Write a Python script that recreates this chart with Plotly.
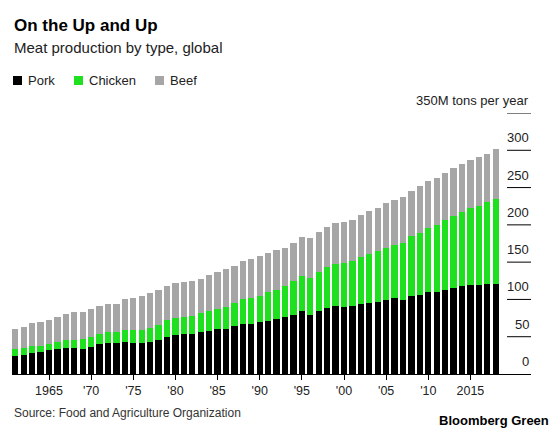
import plotly.graph_objects as go

years = list(range(1961, 2019))

pork = [24.6, 25.9, 28.6, 29.5, 31.7, 33.0, 34.4, 35.3, 33.9, 36.5,
        40.2, 41.3, 41.3, 42.7, 42.0, 41.1, 43.5, 45.8, 50.2, 52.7,
        53.8, 54.0, 56.3, 57.6, 61.0, 60.7, 64.3, 67.4, 67.6, 70.0,
        71.4, 73.7, 75.9, 79.0, 83.9, 79.5, 83.9, 88.4, 90.6, 90.2,
        91.1, 93.8, 95.5, 96.9, 99.1, 101.3, 99.1, 104.0, 106.3, 109.4,
        109.8, 112.9, 115.6, 118.3, 119.6, 119.2, 120.1, 121.0]

chicken = [9.3, 8.7, 8.4, 8.5, 9.2, 9.5, 10.6, 10.9, 13.5, 13.1,
           13.4, 14.7, 14.7, 16.0, 16.9, 17.8, 18.1, 19.6, 22.1, 23.0,
           22.8, 23.9, 25.2, 26.3, 26.3, 28.8, 31.5, 33.0, 34.0, 34.9,
           38.0, 39.2, 42.4, 45.1, 47.8, 48.6, 52.3, 54.5, 56.7, 58.0,
           61.1, 62.9, 65.9, 67.8, 70.5, 71.5, 77.2, 80.4, 83.0, 87.0,
           90.6, 93.8, 96.5, 99.1, 103.2, 106.2, 110.3, 113.8]

beef = [26.8, 28.3, 30.9, 31.2, 31.4, 33.4, 35.8, 36.6, 36.3, 37.7,
        37.5, 38.4, 38.4, 41.3, 43.6, 46.0, 46.9, 47.6, 45.1, 45.7,
        46.6, 46.7, 46.4, 48.7, 49.8, 51.1, 49.7, 50.7, 52.0, 53.3,
        53.5, 53.2, 51.3, 51.8, 51.8, 54.5, 54.4, 54.4, 55.8, 56.3,
        54.5, 57.1, 57.1, 58.5, 59.4, 60.7, 61.6, 61.6, 62.5, 62.5,
        62.1, 62.5, 64.2, 63.9, 63.8, 65.2, 64.7, 67.0]

series_names = ["Pork", "Chicken", "Beef"]
series_colors = ["#000000", "#1fe01f", "#a6a6a6"]

x_tickvals = [1965, 1970, 1975, 1980, 1985, 1990, 1995, 2000, 2005, 2010, 2015]
x_ticktext = ["1965", "'70", "'75", "'80", "'85", "'90", "'95", "'00", "'05", "'10", "2015"]

y_tickvals = [0, 50, 100, 150, 200, 250, 300, 350]
y_ticktext = ["0", "50", "100", "150", "200", "250", "300", "350M tons per year"]

W, H = 560, 432
PL, PR, PT, PB = 12, 531, 113, 374  # plot area in pixels

def px(p):
    return (p - PL) / (PR - PL)

def py(p):
    return (PB - p) / (PB - PT)

FONT = "Liberation Sans, Arial, sans-serif"

fig = go.Figure()
for name, vals, col in zip(series_names, [pork, chicken, beef], series_colors):
    fig.add_trace(go.Bar(x=years, y=vals, name=name, marker=dict(color=col, line=dict(width=0)),
                         width=0.75, showlegend=False))

shapes = []
annotations = []

# right-side short gridlines and labels
for v, t in zip(y_tickvals, y_ticktext):
    if v > 0:
        shapes.append(dict(type="line", xref="paper", yref="y", x0=px(507), x1=px(531), y0=v, y1=v,
                           line=dict(color="#000000", width=1)))
    annotations.append(dict(xref="paper", yref="y", x=px(531), y=v, text=t, showarrow=False,
                            xanchor="right", yanchor="bottom", yshift=3,
                            font=dict(family=FONT, size=13, color="#222222")))

# title, subtitle
annotations.append(dict(xref="paper", yref="paper", x=px(12), y=py(25), text="<b>On the Up and Up</b>",
                        showarrow=False, xanchor="left", yanchor="middle",
                        font=dict(family=FONT, size=17, color="#000000")))
annotations.append(dict(xref="paper", yref="paper", x=px(12), y=py(48), text="Meat production by type, global",
                        showarrow=False, xanchor="left", yanchor="middle",
                        font=dict(family=FONT, size=15, color="#222222")))

# legend
leg_x = [13, 74, 155]
for name, col, lx in zip(series_names, series_colors, leg_x):
    shapes.append(dict(type="rect", xref="paper", yref="paper", x0=px(lx), x1=px(lx + 9),
                       y0=py(85), y1=py(76), fillcolor=col, line=dict(width=0)))
    annotations.append(dict(xref="paper", yref="paper", x=px(lx + 13), y=py(80.5), text=name,
                            showarrow=False, xanchor="left", yanchor="middle",
                            font=dict(family=FONT, size=13, color="#222222")))

# source & brand
annotations.append(dict(xref="paper", yref="paper", x=px(12), y=py(413),
                        text="Source: Food and Agriculture Organization",
                        showarrow=False, xanchor="left", yanchor="middle",
                        font=dict(family=FONT, size=12, color="#333333")))
annotations.append(dict(xref="paper", yref="paper", x=px(551), y=py(420),
                        text="<b>Bloomberg Green</b>",
                        showarrow=False, xanchor="right", yanchor="middle",
                        font=dict(family=FONT, size=13, color="#000000")))

x0 = 1961 - (15.3 - PL) / 8.43
x1 = 2018 + (PR - 495.7) / 8.43

fig.update_layout(
    width=W, height=H,
    barmode="stack", bargap=0,
    margin=dict(l=PL, r=W - PR, t=PT, b=H - PB, pad=0),
    paper_bgcolor="#ffffff", plot_bgcolor="#ffffff",
    shapes=shapes, annotations=annotations,
    xaxis=dict(range=[x0, x1], showgrid=False, zeroline=False,
               showline=True, linecolor="#000000", linewidth=1,
               ticks="outside", ticklen=5, tickwidth=1, tickcolor="#000000",
               tickvals=x_tickvals, ticktext=x_ticktext,
               tickfont=dict(family=FONT, size=12.5, color="#222222"),
               fixedrange=True),
    yaxis=dict(range=[0, 350], showgrid=False, zeroline=False, showticklabels=False,
               showline=False, fixedrange=True),
    font=dict(family=FONT),
)

fig.write_html("out.html", config={"displayModeBar": False},
               post_script="document.body.style.margin='0';document.body.style.overflow='hidden';")
